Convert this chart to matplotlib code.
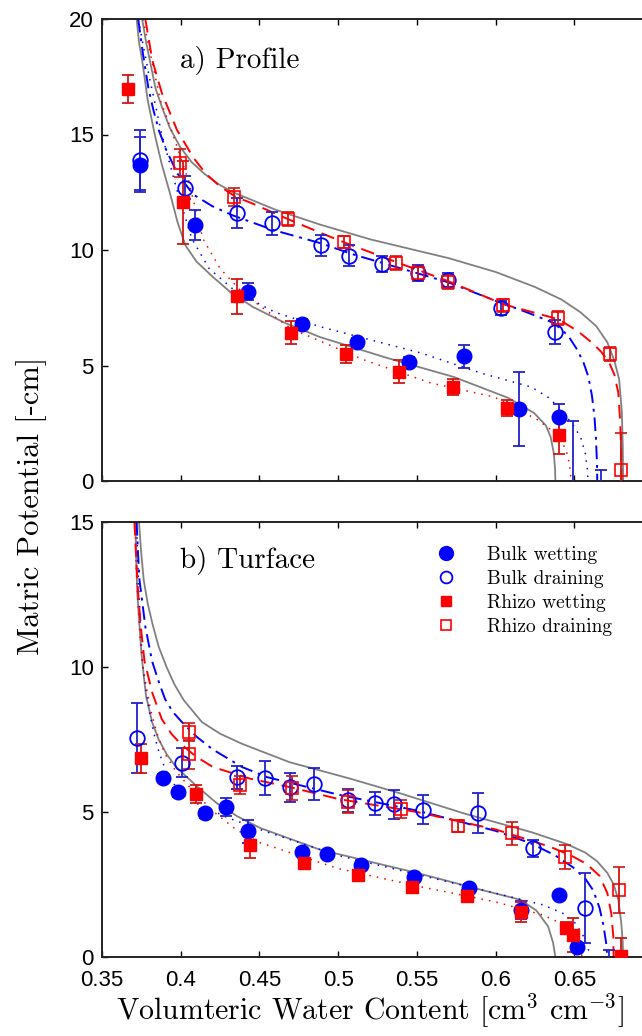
import numpy as np
import matplotlib.pyplot as plt
from matplotlib.lines import Line2D

plt.rcParams['mathtext.fontset'] = 'cm'
plt.rcParams['axes.unicode_minus'] = False

# ---- a) Profile : measured points (theta, h, error) ----
bw_top_x = [0.374, 0.409, 0.443, 0.477, 0.512, 0.545, 0.580, 0.615, 0.640]
bw_top_y = [13.7, 11.1, 8.2, 6.8, 6.0, 5.15, 5.4, 3.1, 2.75]
bw_top_e = [1.2, 0.65, 0.35, 0.2, 0.2, 0.2, 0.5, 1.6, 0.6]

bd_top_x = [0.374, 0.403, 0.436, 0.458, 0.489, 0.507, 0.528, 0.551, 0.570, 0.6035, 0.638, 0.649, 0.667]
bd_top_y = [13.9, 12.7, 11.6, 11.15, 10.2, 9.75, 9.4, 9.0, 8.7, 7.5, 6.45, -0.6, -0.6]
bd_top_e = [1.3, 0.5, 0.65, 0.5, 0.45, 0.45, 0.35, 0.35, 0.3, 0.3, 0.5, 3.2, 1.07]

rw_top_x = [0.3666, 0.4013, 0.4356, 0.470, 0.505, 0.5385, 0.573, 0.607, 0.640]
rw_top_y = [16.96, 12.07, 8.0, 6.42, 5.5, 4.73, 4.08, 3.17, 1.99]
rw_top_e = [0.6, 1.8, 0.75, 0.5, 0.4, 0.5, 0.35, 0.35, 0.8]

rd_top_x = [0.3996, 0.434, 0.468, 0.504, 0.537, 0.551, 0.570, 0.605, 0.6396, 0.673, 0.6797]
rd_top_y = [13.77, 12.3, 11.33, 10.35, 9.43, 9.0, 8.6, 7.6, 7.07, 5.5, 0.47]
rd_top_e = [0.6, 0.4, 0.3, 0.25, 0.3, 0.3, 0.3, 0.3, 0.3, 0.3, 1.6]

# ---- a) Profile : fitted curves ----
gw_top_x = [0.372, 0.3735, 0.376, 0.379, 0.3835, 0.388, 0.393, 0.398, 0.403, 0.41, 0.4205, 0.432,
            0.446, 0.466, 0.4885, 0.53, 0.5736, 0.608, 0.6245, 0.632, 0.635, 0.637, 0.6378, 0.638]
gw_top_y = [20, 19, 18, 16.5, 15, 13.7, 12.5, 11.2, 10.2, 9.5, 8.83, 8.15,
            7.53, 6.85, 6.23, 5.35, 4.5, 3.6, 2.94, 2.4, 1.9, 1.2, 0.5, 0]
gd_top_x = [0.3755, 0.378, 0.381, 0.384, 0.388, 0.393, 0.3996, 0.407, 0.415, 0.424, 0.4332, 0.46,
            0.4885, 0.521, 0.57, 0.6, 0.625, 0.642, 0.654, 0.664, 0.671, 0.6755, 0.6785, 0.6802,
            0.6808, 0.681]
gd_top_y = [20, 19, 18, 17, 16.2, 15.3, 14.46, 13.8, 13.3, 12.85, 12.5, 11.75,
            11.1, 10.45, 9.65, 9.05, 8.4, 7.85, 7.3, 6.7, 6.0, 5.2, 4.4, 3.0, 1.5, 0]
bdf_top_x = [0.373, 0.376, 0.3795, 0.3825, 0.386, 0.391, 0.398, 0.408, 0.42, 0.433, 0.4586, 0.4885,
             0.51, 0.53, 0.55, 0.57, 0.6, 0.62, 0.637, 0.646, 0.652, 0.656, 0.659, 0.6612, 0.6628,
             0.6638, 0.6644, 0.6646]
bdf_top_y = [20, 18.5, 17, 16.1, 15.2, 14.3, 13.3, 12.4, 11.9, 11.5, 10.87, 10.3,
             9.8, 9.4, 9.0, 8.6, 7.8, 7.3, 6.84, 6.3, 5.67, 5.1, 4.5, 3.7, 2.8, 1.8, 0.8, 0]
rdf_top_x = [0.3775, 0.382, 0.388, 0.3976, 0.408, 0.416, 0.425, 0.435, 0.446, 0.466, 0.4885, 0.505,
             0.538, 0.57, 0.605, 0.64, 0.652, 0.661, 0.667, 0.672, 0.6755, 0.678, 0.6792, 0.6798, 0.68]
rdf_top_y = [20, 18.2, 16.8, 15.2, 14.0, 13.3, 12.75, 12.3, 12.0, 11.4, 10.75, 10.3,
             9.45, 8.65, 7.65, 7.0, 6.5, 6.0, 5.6, 5.15, 4.6, 3.8, 2.5, 1.2, 0]
bwf_top_x = [0.373, 0.380, 0.388, 0.398, 0.407, 0.418, 0.435, 0.46, 0.489, 0.5527, 0.5908, 0.6226,
             0.634, 0.6416, 0.6495, 0.654, 0.657, 0.6583, 0.6587]
bwf_top_y = [20, 17.5, 15, 12.5, 10.5, 9.2, 8.2, 7.3, 6.67, 5.54, 4.67, 4.07,
             3.6, 3.07, 2.4, 1.9, 1.2, 0.5, 0]
rwf_top_x = [0.376, 0.387, 0.395, 0.405, 0.414, 0.425, 0.44, 0.47, 0.5165, 0.559, 0.599, 0.627,
             0.6355, 0.6416, 0.645, 0.647, 0.648]
rwf_top_y = [20, 16.5, 15.0, 13.0, 10.5, 9.2, 8.1, 6.6, 5.24, 4.24, 3.64, 2.64,
             2.2, 1.77, 1.3, 0.7, 0]

# ---- b) Turface : measured points ----
bw_bot_x = [0.389, 0.398, 0.4154, 0.4288, 0.4428, 0.477, 0.493, 0.5146, 0.548, 0.583, 0.616, 0.640, 0.652]
bw_bot_y = [6.17, 5.68, 4.96, 5.17, 4.34, 3.62, 3.55, 3.17, 2.76, 2.38, 1.62, 2.14, 0.35]
bw_bot_e = [0.15, 0.15, 0.15, 0.3, 0.4, 0.15, 0.1, 0.15, 0.15, 0.15, 0.3, 0.1, 0.15]

bd_bot_x = [0.372, 0.401, 0.436, 0.4536, 0.4695, 0.4848, 0.506, 0.5235, 0.5355, 0.554, 0.589, 0.624, 0.657, 0.672]
bd_bot_y = [7.55, 6.7, 6.2, 6.17, 5.86, 5.96, 5.41, 5.3, 5.27, 5.07, 4.96, 3.75, 1.68, -0.5]
bd_bot_e = [1.2, 0.5, 0.4, 0.6, 0.5, 0.55, 0.4, 0.4, 0.5, 0.5, 0.7, 0.3, 1.2, 0.75]

rw_bot_x = [0.375, 0.410, 0.444, 0.478, 0.5126, 0.547, 0.582, 0.616, 0.6448, 0.649, 0.6797]
rw_bot_y = [6.86, 5.62, 3.86, 3.24, 2.83, 2.41, 2.1, 1.55, 1.0, 0.76, 0.05]
rw_bot_e = [0.5, 0.3, 0.45, 0.15, 0.15, 0.15, 0.2, 0.35, 0.2, 0.6, 0.6]

rd_bot_x = [0.405, 0.405, 0.4377, 0.471, 0.506, 0.540, 0.576, 0.6105, 0.644, 0.6785]
rd_bot_y = [7.76, 7.0, 5.93, 5.83, 5.35, 5.1, 4.52, 4.27, 3.45, 2.31]
rd_bot_e = [0.3, 0.5, 0.3, 0.4, 0.4, 0.3, 0.2, 0.4, 0.4, 0.8]

# ---- b) Turface : fitted curves ----
gd_bot_x = [0.3735, 0.3748, 0.3765, 0.379, 0.382, 0.386, 0.391, 0.396, 0.402, 0.4135, 0.425, 0.439,
            0.469, 0.5076, 0.539, 0.58, 0.623, 0.645, 0.657, 0.6645, 0.671, 0.675, 0.678, 0.6798,
            0.6808, 0.681]
gd_bot_y = [15, 14, 13, 12.2, 11.5, 10.7, 10, 9.4, 8.85, 8.1, 7.7, 7.35,
            6.72, 6.15, 5.65, 4.95, 4.3, 3.9, 3.6, 3.3, 2.9, 2.5, 1.97, 1.2, 0.5, 0]
gw_bot_x = [0.3712, 0.3718, 0.3725, 0.3737, 0.375, 0.3765, 0.378, 0.3818, 0.386, 0.391, 0.397, 0.41,
            0.423, 0.436, 0.4504, 0.4885, 0.55, 0.592, 0.616, 0.626, 0.6334, 0.6365, 0.638]
gw_bot_y = [15, 13.5, 12.5, 11.5, 10.5, 9.7, 9.0, 8.1, 7.5, 7.0, 6.55, 5.9,
            5.3, 4.85, 4.45, 3.7, 2.9, 2.3, 1.97, 1.6, 1.05, 0.5, 0]
bdf_bot_x = [0.372, 0.3728, 0.3738, 0.375, 0.3775, 0.3818, 0.386, 0.390, 0.395, 0.4008, 0.41, 0.420,
             0.439, 0.455, 0.5, 0.55, 0.6, 0.622, 0.638, 0.649, 0.657, 0.662, 0.666, 0.6685,
             0.6702, 0.671]
bdf_bot_y = [15, 14, 13, 12.5, 11.4, 10.2, 9.5, 8.9, 8.45, 8.1, 7.6, 7.17,
             6.55, 6.2, 5.6, 5.05, 4.35, 3.93, 3.5, 3.1, 2.7, 2.3, 1.7, 1.1, 0.5, 0]
rdf_bot_x = [0.3706, 0.3715, 0.373, 0.3748, 0.377, 0.382, 0.388, 0.394, 0.40, 0.41, 0.4205, 0.444,
             0.47, 0.5, 0.55, 0.6, 0.6346, 0.648, 0.658, 0.666, 0.671, 0.6735, 0.6748, 0.675]
rdf_bot_y = [15, 14, 12.5, 11.3, 10.2, 9.1, 8.2, 7.7, 7.35, 6.9, 6.55, 6.15,
             5.85, 5.45, 5.0, 4.4, 3.8, 3.5, 3.2, 2.8, 2.2, 1.5, 0.7, 0]
bwf_bot_x = [0.372, 0.3728, 0.3735, 0.3748, 0.376, 0.378, 0.38, 0.383, 0.386, 0.39, 0.395, 0.402,
             0.41, 0.43, 0.45, 0.5, 0.55, 0.6, 0.63, 0.643, 0.651, 0.656, 0.6588, 0.66]
bwf_bot_y = [15, 13.5, 12.5, 11, 10, 9.2, 8.5, 7.7, 7.1, 6.5, 6.0, 5.6,
             5.3, 4.8, 4.4, 3.5, 2.85, 2.2, 1.8, 1.5, 1.15, 0.7, 0.3, 0]
rwf_bot_x = [0.371, 0.3717, 0.3725, 0.3742, 0.376, 0.3785, 0.381, 0.385, 0.39, 0.397, 0.405, 0.42,
             0.435, 0.45, 0.5, 0.55, 0.6, 0.63, 0.642, 0.649, 0.653, 0.655]
rwf_bot_y = [15, 13.5, 12.5, 11, 10, 9.2, 8.5, 7.7, 7.0, 6.4, 5.9, 5.05,
             4.4, 3.95, 3.05, 2.45, 1.9, 1.45, 1.15, 0.85, 0.45, 0]

xticks = [0.35, 0.4, 0.45, 0.5, 0.55, 0.6, 0.65, 0.7]
xticklabels = ['0.35', '0.4', '0.45', '0.5', '0.55', '0.6', '0.65', '']

BLUE = '#0000ff'
RED = '#ff0000'
GRAY = '#808080'
SERIF = 'cmr10'
SANS = 'Liberation Sans'

fig = plt.figure(figsize=(6.42, 10.36), dpi=100)
ax1 = fig.add_axes([102 / 642, 1 - 481 / 1036, 551 / 642, 462 / 1036])
ax2 = fig.add_axes([102 / 642, 1 - 957 / 1036, 551 / 642, 435 / 1036])


def draw_curves(ax, gw, gd, bdf, rdf, bwf, rwf):
    ax.plot(*gw, color=GRAY, lw=1.3, zorder=2)
    ax.plot(*gd, color=GRAY, lw=1.3, zorder=2)
    ax.plot(*bwf, color=BLUE, lw=1.1, ls=(0, (1, 4)), zorder=2)
    ax.plot(*rwf, color=RED, lw=1.1, ls=(0, (1, 4)), zorder=2)
    ax.plot(*bdf, color=BLUE, lw=1.4, ls=(0, (7, 3, 1.5, 3)), zorder=2)
    ax.plot(*rdf, color=RED, lw=1.4, ls=(0, (7, 4)), zorder=2)


def draw_points(ax, bw, bd, rw, rd):
    common = dict(ls='none', capsize=4.5, elinewidth=1.3, capthick=1.3, zorder=3)
    ax.errorbar(*bw[:2], yerr=bw[2], marker='o', ms=10.5, mfc=BLUE, mec=BLUE,
                color=BLUE, ecolor='#2222cc', **common)
    ax.errorbar(*bd[:2], yerr=bd[2], marker='o', ms=10.5, mfc='none', mec=BLUE,
                mew=1.3, color=BLUE, ecolor='#2222cc', **common)
    ax.errorbar(*rw[:2], yerr=rw[2], marker='s', ms=8.5, mfc=RED, mec=RED,
                color=RED, ecolor='#d01515', **common)
    ax.errorbar(*rd[:2], yerr=rd[2], marker='s', ms=8.5, mfc='none', mec=RED,
                mew=1.2, color=RED, ecolor='#d01515', **common)


draw_curves(ax1, (gw_top_x, gw_top_y), (gd_top_x, gd_top_y), (bdf_top_x, bdf_top_y),
            (rdf_top_x, rdf_top_y), (bwf_top_x, bwf_top_y), (rwf_top_x, rwf_top_y))
draw_points(ax1, (bw_top_x, bw_top_y, bw_top_e), (bd_top_x, bd_top_y, bd_top_e),
            (rw_top_x, rw_top_y, rw_top_e), (rd_top_x, rd_top_y, rd_top_e))

draw_curves(ax2, (gw_bot_x, gw_bot_y), (gd_bot_x, gd_bot_y), (bdf_bot_x, bdf_bot_y),
            (rdf_bot_x, rdf_bot_y), (bwf_bot_x, bwf_bot_y), (rwf_bot_x, rwf_bot_y))
draw_points(ax2, (bw_bot_x, bw_bot_y, bw_bot_e), (bd_bot_x, bd_bot_y, bd_bot_e),
            (rw_bot_x, rw_bot_y, rw_bot_e), (rd_bot_x, rd_bot_y, rd_bot_e))

for ax, ymax in ((ax1, 20), (ax2, 15)):
    ax.set_xlim(0.35, 0.70)
    ax.set_ylim(0, ymax)
    ax.set_yticks(np.arange(0, ymax + 1, 5))
    ax.set_xticks(xticks)
    ax.tick_params(direction='in', top=True, right=True, length=4.5, width=1.0,
                   labelsize=16, pad=6)
    for lab in ax.get_yticklabels() + ax.get_xticklabels():
        lab.set_family(SANS)
    for sp in ax.spines.values():
        sp.set_linewidth(1.4)
        sp.set_color('#222222')

ax1.set_xticklabels([])
ax2.set_xticklabels(xticklabels, family=SANS)
ax2.tick_params(axis='x', pad=9)

ax1.text(0.142, 0.895, 'a) Profile', transform=ax1.transAxes, family=SERIF, fontsize=21)
ax2.text(0.142, 0.895, 'b) Turface', transform=ax2.transAxes, family=SERIF, fontsize=21)

handles = [
    Line2D([], [], ls='none', marker='o', ms=10, mfc=BLUE, mec=BLUE),
    Line2D([], [], ls='none', marker='o', ms=8.5, mfc='none', mec=BLUE, mew=1.3),
    Line2D([], [], ls='none', marker='s', ms=7.5, mfc=RED, mec=RED),
    Line2D([], [], ls='none', marker='s', ms=7.5, mfc='none', mec=RED, mew=1.2),
]
labels = ['Bulk wetting', 'Bulk draining', 'Rhizo wetting', 'Rhizo draining']
ax2.legend(handles, labels, loc='upper left', bbox_to_anchor=(0.575, 0.985),
           frameon=False, numpoints=1, handlelength=1.0, handletextpad=1.6,
           labelspacing=0.3, prop={'family': SERIF, 'size': 14})

fig.text(32 / 642, 1 - 506 / 1036, 'Matric Potential [-cm]', rotation=90, ha='center',
         va='center', family=SERIF, fontsize=22)
fig.text(370 / 642, 1 - 1011 / 1036, r'Volumteric Water Content [cm$^3$ cm$^{-3}$]',
         ha='center', va='center', family=SERIF, fontsize=21.5)

fig.savefig('out.png', dpi=100)
